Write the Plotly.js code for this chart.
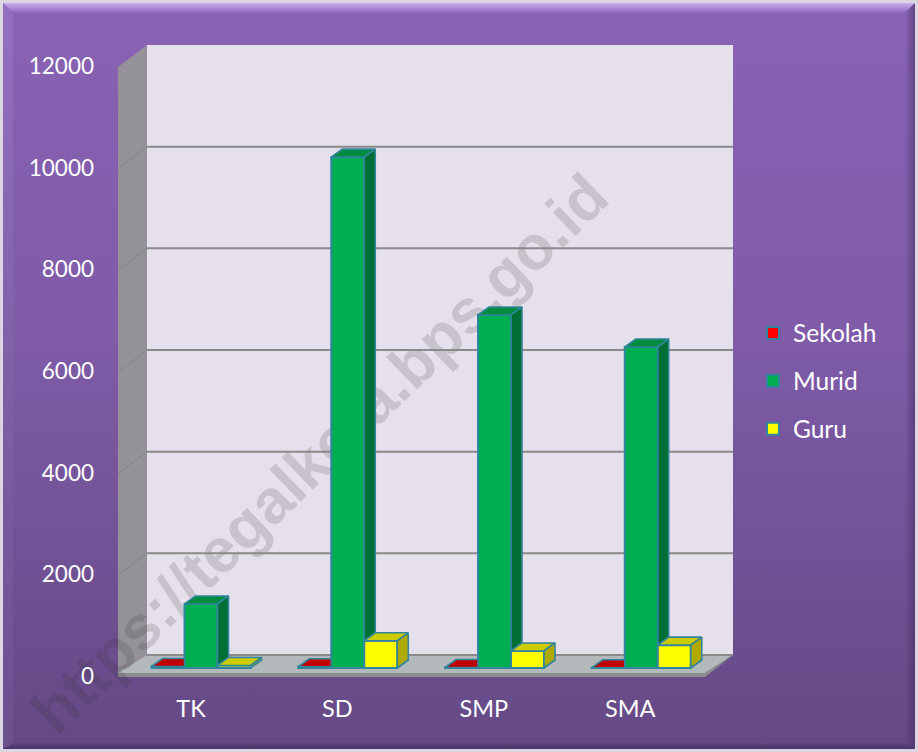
<!DOCTYPE html>
<html><head><meta charset="utf-8">
<script src="https://cdn.plot.ly/plotly-3.0.1.min.js"></script>
<style>
html,body{margin:0;padding:0;width:918px;height:752px;overflow:hidden;background:#dcd6e2}
#panel{position:absolute;left:3px;top:3px;width:912px;height:746px;background:linear-gradient(to bottom,#8962b4 0%,#7f5ba8 45%,#654985 100%)}
.b{position:absolute}
#bt{left:0;top:0;width:100%;height:10px;background:linear-gradient(to bottom,#cdaef2,#8d67b9);clip-path:polygon(0 0,100% 0,calc(100% - 10px) 100%,10px 100%)}
#bl{left:0;top:0;width:10px;height:100%;background:linear-gradient(to bottom,#946fc0,#6c4f8d);clip-path:polygon(0 0,100% 10px,100% calc(100% - 6px),0 100%)}
#br{right:0;top:0;width:10px;height:100%;background:linear-gradient(to right,rgba(60,40,90,0),rgba(60,40,90,.5));clip-path:polygon(100% 0,100% 100%,0 calc(100% - 6px),0 10px)}
#bb{left:0;bottom:0;width:100%;height:6px;background:linear-gradient(to bottom,rgba(50,35,75,.1),rgba(50,35,75,.55));clip-path:polygon(10px 0,calc(100% - 10px) 0,100% 100%,0 100%)}
#chart{position:absolute;left:0;top:0;width:918px;height:752px}
</style></head><body>
<div id="panel"><div class="b" id="bt"></div><div class="b" id="bl"></div><div class="b" id="br"></div><div class="b" id="bb"></div></div>
<div id="chart"></div>
<script>
const categories = ['TK','SD','SMP','SMA'];
const seriesNames = ['Sekolah','Murid','Guru'];
const sekolah = [30,25,10,5];
const murid = [1260,10050,6945,6315];
const guru = [50,535,335,450];
const yTicks = [0,2000,4000,6000,8000,10000,12000];
const watermark = 'https://tegalkota.bps.go.id';

const W=918,H=752,mL=118,mR=185,mT=45,mB=75;
const pxPerX=146.75, pxPerY=610/12000;
const xMin=(118-201)/pxPerX, xMax=(733-201)/pxPerX, yMax=(677-45)/pxPerY;
const wallDx=29/pxPerX, wallDy=22/pxPerY;
const frontW=587/pxPerX;
const barW=33/pxPerX, barBase=9/pxPerY, depthX=11/pxPerX, depthY=8/pxPerY;
const teal='#31859c';
const idx=categories.map((_,i)=>i);

function poly(list){
  const x=[],y=[];
  list.forEach(p=>{p.forEach(q=>{x.push(q[0]);y.push(q[1]);});x.push(p[0][0]);y.push(p[0][1]);x.push(null);y.push(null);});
  return {x,y};
}
function face(list,fill){
  const d=poly(list);
  return {type:'scatter',mode:'lines',x:d.x,y:d.y,fill:'toself',fillcolor:fill,line:{color:teal,width:1.6},hoverinfo:'skip',showlegend:false};
}
function barTrace(vals,name,color){
  return {type:'bar',name:name,x:idx,y:vals,base:barBase,legendgroup:name,marker:{color:color,line:{color:teal,width:2}}};
}
const L=s=>i=>i+(s-1.5)*barW, R=s=>i=>i+(s-0.5)*barW;
const topY=v=>barBase+v;

const sekTop=face(idx.map(i=>[[L(0)(i),topY(sekolah[i])],[L(0)(i)+depthX,topY(sekolah[i])+depthY],[R(0)(i),topY(sekolah[i])+depthY],[R(0)(i),topY(sekolah[i])]]),'#c00000');
const murTop=face(idx.map(i=>[[L(1)(i),topY(murid[i])],[L(1)(i)+depthX,topY(murid[i])+depthY],[R(1)(i)+depthX,topY(murid[i])+depthY],[R(1)(i),topY(murid[i])]]),'#008c40');
const murSide=face(idx.map(i=>[[R(1)(i),topY(murid[i])],[R(1)(i)+depthX,topY(murid[i])+depthY],[R(1)(i)+depthX,topY(guru[i])+depthY],[R(1)(i),topY(guru[i])]]),'#006f35');
const guTop=face(idx.map(i=>[[L(2)(i),topY(guru[i])],[L(2)(i)+depthX,topY(guru[i])+depthY],[R(2)(i)+depthX,topY(guru[i])+depthY],[R(2)(i),topY(guru[i])]]),'#cccc00');
const guSide=face(idx.map(i=>[[R(2)(i),topY(guru[i])],[R(2)(i)+depthX,topY(guru[i])+depthY],[R(2)(i)+depthX,barBase+depthY],[R(2)(i),barBase]]),'#b0aa00');

const traces=[
  barTrace(sekolah,seriesNames[0],'#ff0000'),
  barTrace(murid,seriesNames[1],'#00b050'),
  barTrace(guru,seriesNames[2],'#ffff00'),
  sekTop,murTop,murSide,guTop,guSide
];

// frame pieces in paper coordinates so the watermark can sit between them and the gridlines
const px=x=>(x-xMin)/(xMax-xMin), py=y=>y/yMax;
const path=p=>'M'+p.map(q=>px(q[0])+','+py(q[1])).join('L')+'Z';
const lipH=4/pxPerY;
const xF1=xMin+frontW;
const frame=(p,fill)=>({type:'path',layer:'below',xref:'paper',yref:'paper',path:path(p),fillcolor:fill,line:{width:0}});
const shapes=[
  frame([[xMin+wallDx,wallDy],[xMax,wallDy],[xMax,yMax],[xMin+wallDx,yMax]],'#e6e0ec'),
  frame([[xMin,0],[xMin+wallDx,wallDy],[xMin+wallDx,yMax],[xMin,yMax-wallDy]],'#949298'),
  frame([[xMin,lipH],[xMin+wallDx,wallDy],[xMax,wallDy],[xF1,lipH]],'#b3b9bb'),
  frame([[xMin,0],[xMin,lipH],[xF1,lipH],[xMax,wallDy],[xF1,0]],'#8e8e8e'),
  {type:'line',layer:'below',xref:'paper',yref:'paper',x0:(28-mL)/615,y0:(677-729)/632,x1:(603-mL)/615,y1:(677-169)/632,line:{width:0,color:'rgba(0,0,0,0)'},
   label:{text:watermark,textposition:'middle',textangle:-44,xanchor:'center',yanchor:'middle',font:{family:'Liberation Sans',size:62,weight:700,color:'rgba(50,50,50,0.17)'}}}
];
yTicks.filter(v=>v<12000).forEach(v=>{
  shapes.push({type:'line',layer:'below',xref:'x',yref:'y',x0:xMin+wallDx,x1:xMax,y0:v+wallDy,y1:v+wallDy,line:{color:'#8a8a8a',width:2}});
  if(v>0) shapes.push({type:'line',layer:'below',xref:'x',yref:'y',x0:xMin,x1:xMin+wallDx,y0:v,y1:v+wallDy,line:{color:'#86858a',width:1}});
});

const layout={
  width:W,height:H,margin:{l:mL,r:mR,t:mT,b:mB,pad:0},
  paper_bgcolor:'rgba(0,0,0,0)',plot_bgcolor:'rgba(0,0,0,0)',
  font:{family:'Lato, Carlito, sans-serif',size:22,color:'#ffffff'},
  barmode:'group',bargap:1-3*barW,bargroupgap:0,
  xaxis:{type:'linear',range:[xMin,xMax],tickmode:'array',tickvals:idx.map(i=>i*0.9976-0.068),ticktext:categories,tickfont:{size:23.5},showgrid:false,zeroline:false,showline:false,ticks:'',ticklabelstandoff:15,automargin:false,fixedrange:true},
  yaxis:{type:'linear',range:[0,yMax],tickmode:'array',tickvals:yTicks,ticktext:yTicks.map(String),tickfont:{size:22.5},showgrid:false,zeroline:false,showline:false,ticks:'',ticklabelstandoff:23,ticklabelshift:-1,automargin:false,fixedrange:true},
  legend:{x:(753-mL)/615,y:(677-381)/632,xanchor:'left',yanchor:'middle',traceorder:'grouped',tracegroupgap:13,bgcolor:'rgba(0,0,0,0)',borderwidth:0,font:{size:24.5,color:'#fff'}},
  showlegend:true,shapes:shapes
};
Plotly.newPlot('chart',traces,layout,{displayModeBar:false,staticPlot:true});
</script>
</body></html>
